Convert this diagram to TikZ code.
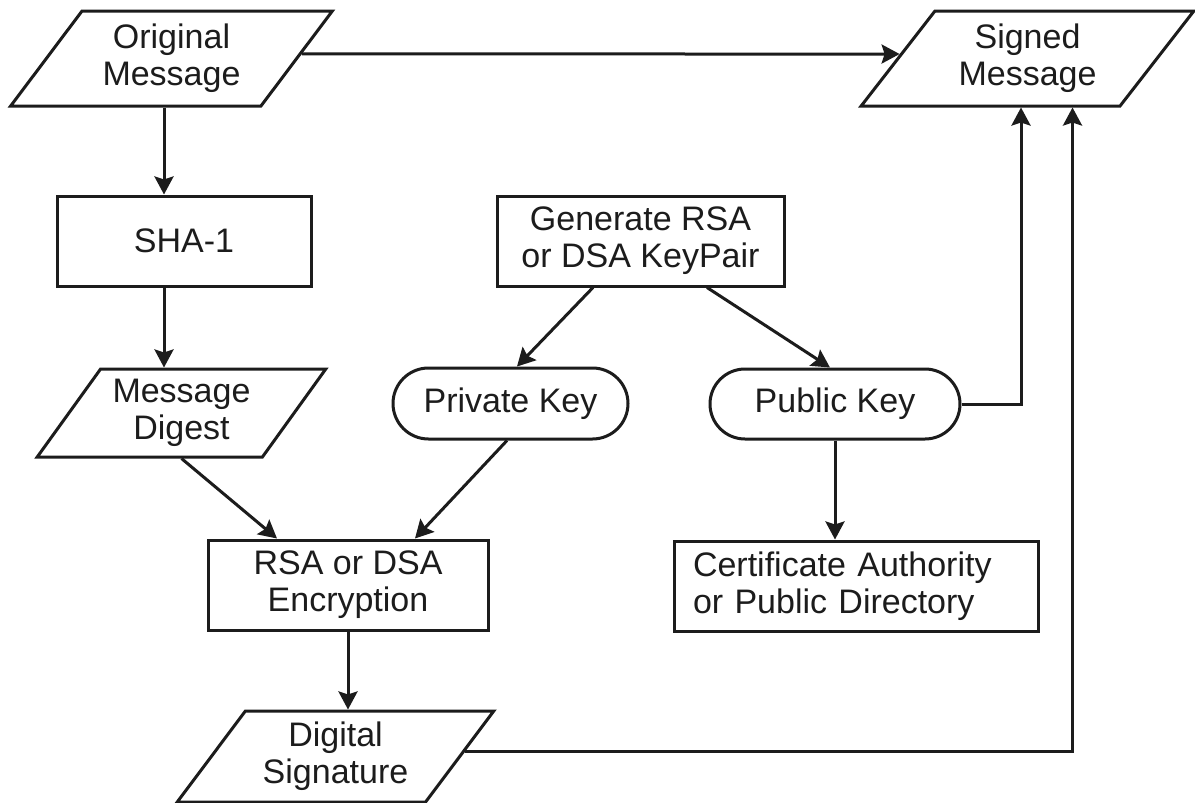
\documentclass[tikz,border=0pt]{standalone}
\usepackage{fontspec}
\setmainfont{Liberation Sans}
\usetikzlibrary{shapes.geometric,shapes.misc,arrows.meta}
\definecolor{ink}{HTML}{1C1C1C}
\begin{document}
\begin{tikzpicture}[x=1pt,y=-1pt,
  every node/.style={font=\fontsize{34}{37}\selectfont, text=ink, inner sep=0pt},
  outline/.style={draw=ink, line width=3pt},
  box/.style={outline, rectangle, minimum height=90pt, align=center},
  io/.style={outline, trapezium, trapezium left angle=51.3, trapezium right angle=128.7,
             trapezium stretches=true, align=center},
  pill/.style={outline, rounded rectangle, minimum height=70pt},
  arr/.style={draw=ink, line width=3pt, -{Stealth[length=18pt,width=19pt,inset=3pt]}}
]
\fill[white] (0,0) rectangle (1195,803);
\useasboundingbox (0,0) rectangle (1195,803);

% data and process nodes
\node[io, minimum width=322pt, minimum height=95pt] (orig) at (171.5,58.5) {Original\\Message};
\node[io, minimum width=333pt, minimum height=95pt] (signed) at (1027.5,58.5) {Signed\\Message};
\node[box, minimum width=254pt] (sha) at (184,241) {SHA-1};
\node[box, minimum width=287pt] (gen) at (640.5,241) {Generate RSA\\or DSA KeyPair};
\node[io, minimum width=289pt, minimum height=88pt] (digest) at (181.5,413) {Message\\Digest};
\node[pill, minimum width=235pt, minimum height=71pt] (priv) at (510.5,403.5) {Private Key};
\node[pill, minimum width=250pt] (pub) at (835,404) {Public Key};
\node[box, minimum width=280pt] (enc) at (348,585) {RSA or DSA\\Encryption};
\node[box, minimum width=364pt, text width=326pt, align=left] (ca) at (856,586)
  {Certificate Authority\\or Public Directory};
\node[io, minimum width=317pt, minimum height=91pt] (dsig) at (335.5,756.5) {Digital\\Signature};

\coordinate (colA) at (164,0);

% connectors
\draw[arr] (orig.2) -- (signed.178);
\draw[arr] (orig.south -| colA) -- (sha.north -| colA);
\draw[arr] (sha.south -| colA) -- (digest.north -| colA);
\draw[arr] (digest.south) -- ([xshift=-71pt]enc.north);
\draw[arr] ([xshift=-47.5pt]gen.south) -- ([xshift=6.5pt]priv.north);
\draw[arr] ([xshift=66.5pt]gen.south) -- ([xshift=-5pt]pub.north);
\draw[arr] ([xshift=-3.5pt]priv.south) -- ([xshift=67pt]enc.north);
\draw[arr] (pub.south) -- (pub.south |- ca.north);
\draw[arr] (pub.east) -| ([xshift=-6.5pt]signed.south);
\draw[arr] (enc.south) -- (enc.south |- dsig.north);
\draw[arr] (dsig.2) -| ([xshift=45pt]signed.south);
\end{tikzpicture}
\end{document}
